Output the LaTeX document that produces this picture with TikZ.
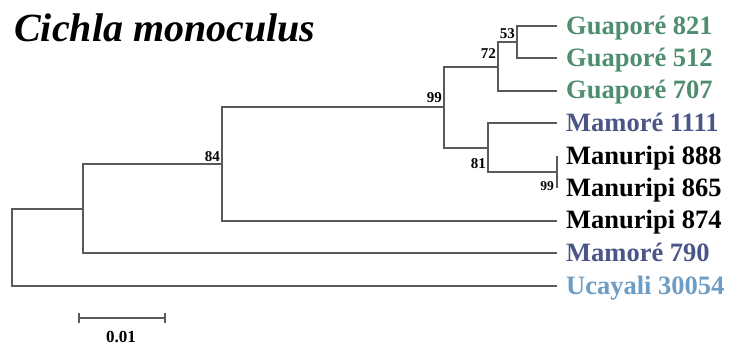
\documentclass[tikz,border=0pt]{standalone}
\usepackage{fontspec}
\setmainfont{Liberation Serif}
\definecolor{guap}{HTML}{4E8E6E}
\definecolor{mamo}{HTML}{4B5688}
\definecolor{ucay}{HTML}{6D9DC4}
\definecolor{brc}{HTML}{5A5A5A}
\begin{document}
\begin{tikzpicture}[x=1pt,y=-1pt,
  br/.style={draw=brc,line width=1.8pt},
  leaf/.style={anchor=base west,inner sep=0pt,font=\fontsize{26.5}{28}\selectfont\bfseries},
  boot/.style={inner sep=0pt,font=\fontsize{15}{16}\selectfont\bfseries},
  bootsm/.style={inner sep=0pt,font=\fontsize{13.5}{15}\selectfont\bfseries}]
\useasboundingbox (0,0) rectangle (730,347);
\fill[white] (0,0) rectangle (730,347);
% title
\node[anchor=base west,inner sep=0pt,font=\fontsize{40}{44}\selectfont\bfseries\itshape] (title) at (14,42) {Cichla monoculus};
% leaf tips
\coordinate (t821) at (557,26);
\coordinate (t512) at (557,58);
\coordinate (t707) at (557,91);
\coordinate (t1111) at (557,123);
\coordinate (t888) at (557,156);
\coordinate (t865) at (557,188);
\coordinate (t874) at (557,221);
\coordinate (t790) at (557,253);
\coordinate (tUca) at (557,286);
% internal nodes
\coordinate (n53) at (517,42);
\coordinate (n72) at (498,67);
\coordinate (nM) at (557,172);
\coordinate (n81) at (488,148);
\coordinate (n99) at (444,107);
\coordinate (n84) at (222,164);
\coordinate (nA) at (83,209);
\coordinate (r) at (12,247);
% branches
\draw[br] (t821) -| (n53) |- (t512);
\draw[br] (n53) -| (n72) |- (t707);
\draw[br] (t888) -- (t865);
\draw[br] (t1111) -| (n81) |- (nM);
\draw[br] (n72) -| (n99) |- (n81);
\draw[br] (n99) -| (n84) |- (t874);
\draw[br] (n84) -| (nA) |- (t790);
\draw[br] (nA) -| (r) |- (tUca);
% leaf labels
\node[leaf,text=guap] (l821) at (566,34.5) {Guaporé 821};
\node[leaf,text=guap] (l512) at (566,66.5) {Guaporé 512};
\node[leaf,text=guap] (l707) at (566,99) {Guaporé 707};
\node[leaf,text=mamo] (l1111) at (566,131.5) {Mamoré 1111};
\node[leaf] (l888) at (566,164.5) {Manuripi 888};
\node[leaf] (l865) at (566,196.5) {Manuripi 865};
\node[leaf] (l874) at (566,229) {Manuripi 874};
\node[leaf,text=mamo] (l790) at (566,261.5) {Mamoré 790};
\node[leaf,text=ucay] (lUca) at (566,294) {Ucayali 30054};
% bootstrap values
\node[boot,anchor=south east] (b53) at (515,39) {53};
\node[boot,anchor=east] (b72) at (496,54) {72};
\node[boot,anchor=south east] (b99) at (442,103) {99};
\node[boot,anchor=south east] (b84) at (220,162) {84};
\node[boot,anchor=south east] (b81) at (486,169) {81};
\node[bootsm,anchor=east] (b99s) at (554,186) {99};
% scale bar
\coordinate (sbL) at (79,318);
\coordinate (sbR) at (165,318);
\draw[br,line width=1.5pt] (sbL) -- (sbR);
\draw[br,line width=1.5pt] ([yshift=5pt]sbL) -- ([yshift=-5pt]sbL);
\draw[br,line width=1.5pt] ([yshift=5pt]sbR) -- ([yshift=-5pt]sbR);
\node[inner sep=0pt,font=\fontsize{17}{18}\selectfont\bfseries] (sbt) at (121,337) {0.01};
\end{tikzpicture}
\end{document}
